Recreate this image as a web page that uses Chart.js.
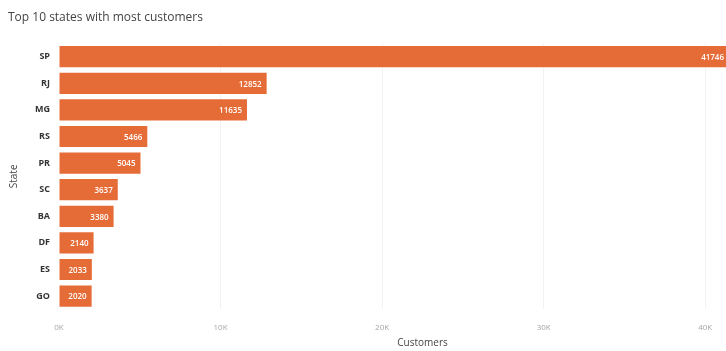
<!DOCTYPE html>
<html lang="en">
<head>
    <meta charset="UTF-8">
    <title>Top 10 states with most customers</title>
    <script src="https://cdn.jsdelivr.net/npm/chart.js"></script>
    <style>
        html, body {
            margin: 0;
            padding: 0;
            background: #ffffff;
            overflow: hidden;
        }
        #wrap {
            position: relative;
            width: 790px;
            height: 351px;
        }
    </style>
</head>
<body>
    <div id="wrap">
        <canvas id="statesChart"></canvas>
    </div>

    <script>
        // Customers per state (top 10)
        const states = ['SP', 'RJ', 'MG', 'RS', 'PR', 'SC', 'BA', 'DF', 'ES', 'GO'];
        const customers = [41746, 12852, 11635, 5466, 5045, 3637, 3380, 2140, 2033, 2020];
        const xTicks = [0, 10000, 20000, 30000, 40000];
        const xTickLabels = ['0K', '10K', '20K', '30K', '40K'];

        const FONT = "'Open Sans', 'DejaVu Sans', sans-serif";

        // Draws each value in white at the inner end of its bar,
        // kept inside the visible part of the page
        const barValues = {
            id: 'barValues',
            afterDatasetsDraw(chart) {
                const ctx = chart.ctx;
                const meta = chart.getDatasetMeta(0);
                const visibleRight = window.innerWidth - 2;
                ctx.save();
                ctx.font = '600 8px ' + FONT;
                ctx.fillStyle = '#ffffff';
                ctx.textAlign = 'right';
                ctx.textBaseline = 'middle';
                meta.data.forEach((bar, i) => {
                    const text = String(customers[i]);
                    const w = ctx.measureText(text).width;
                    let x = Math.min(bar.x - 5, visibleRight);
                    if (x - w < bar.base + 3) x = bar.base + 3 + w;
                    ctx.fillText(text, x, bar.y + 1);
                });
                ctx.restore();
            }
        };

        new Chart(document.getElementById('statesChart'), {
            type: 'bar',
            data: {
                labels: states,
                datasets: [{
                    label: 'Customers',
                    data: customers,
                    backgroundColor: '#E66C37',
                    borderWidth: 0,
                    categoryPercentage: 0.82,
                    barPercentage: 0.97
                }]
            },
            options: {
                indexAxis: 'y',
                responsive: true,
                maintainAspectRatio: false,
                animation: false,
                layout: {
                    padding: { left: 8, right: 4, top: 2, bottom: 2 }
                },
                plugins: {
                    legend: { display: false },
                    tooltip: { enabled: false },
                    title: {
                        display: true,
                        text: 'Top 10 states with most customers',
                        align: 'start',
                        color: '#444444',
                        font: { family: FONT, size: 12, weight: 'normal' },
                        padding: { top: 8, bottom: 19 }
                    }
                },
                scales: {
                    x: {
                        min: 0,
                        max: 45000,
                        afterBuildTicks(scale) {
                            scale.ticks = xTicks.map(v => ({ value: v }));
                        },
                        ticks: {
                            color: '#a6a6a6',
                            font: { family: FONT, size: 8 },
                            padding: 14,
                            callback: (v) => xTickLabels[xTicks.indexOf(v)]
                        },
                        grid: {
                            color: (c) => c.tick && c.tick.value === 0 ? 'rgba(0,0,0,0)' : '#f2f2f2',
                            drawTicks: false
                        },
                        border: { display: false },
                        title: {
                            display: true,
                            text: 'Customers',
                            color: '#444444',
                            font: { family: FONT, size: 10 },
                            padding: { top: -10, bottom: 0 }
                        }
                    },
                    y: {
                        ticks: {
                            color: '#333333',
                            font: { family: FONT, size: 9, weight: 'bold' },
                            padding: 9
                        },
                        grid: { display: false, drawTicks: false },
                        border: { display: false },
                        title: {
                            display: true,
                            text: 'State',
                            color: '#444444',
                            font: { family: FONT, size: 10 },
                            padding: { top: 0, bottom: 6 }
                        }
                    }
                }
            },
            plugins: [barValues]
        });
    </script>
</body>
</html>
